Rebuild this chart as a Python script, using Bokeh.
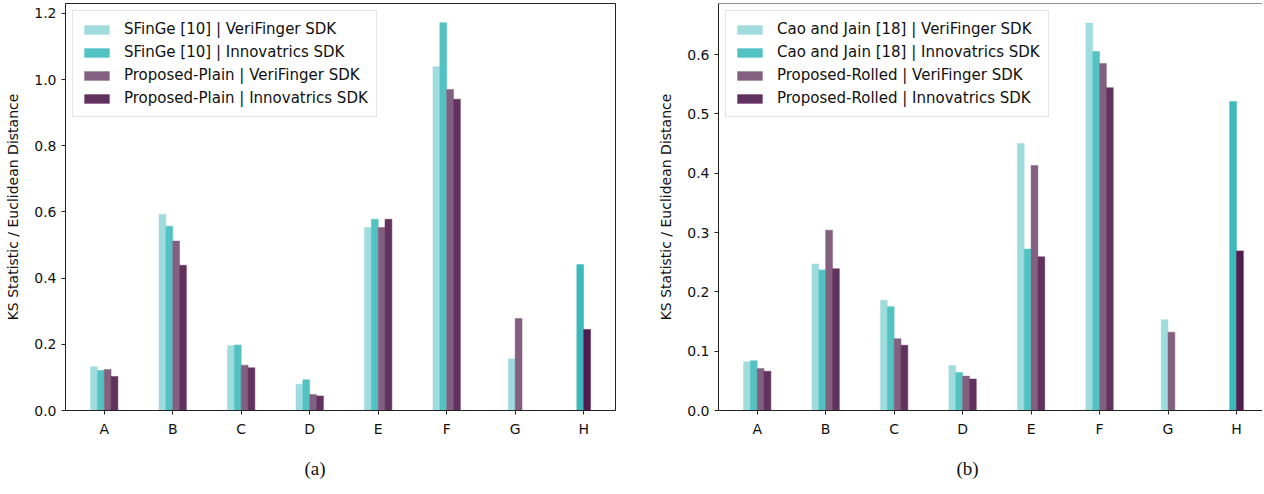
from bokeh.plotting import figure
from bokeh.layouts import row
from bokeh.models import (FixedTicker, Legend, LegendItem, Title, Span,
                          NumeralTickFormatter, ColumnDataSource)
from bokeh.embed import file_html
from bokeh.resources import INLINE

categories = ["A", "B", "C", "D", "E", "F", "G", "H"]

left_labels = ["SFinGe [10] | VeriFinger SDK", "SFinGe [10] | Innovatrics SDK",
               "Proposed-Plain | VeriFinger SDK", "Proposed-Plain | Innovatrics SDK"]
left_sfinge_veri = [0.132, 0.593, 0.196, 0.079, 0.553, 1.039, 0.156, None]
left_sfinge_inno = [0.121, 0.557, 0.198, 0.093, 0.578, 1.172, None, 0.441]
left_plain_veri = [0.124, 0.512, 0.137, 0.048, 0.553, 0.970, 0.278, None]
left_plain_inno = [0.103, 0.439, 0.129, 0.044, 0.578, 0.941, None, 0.245]

right_labels = ["Cao and Jain [18] | VeriFinger SDK", "Cao and Jain [18] | Innovatrics SDK",
                "Proposed-Rolled | VeriFinger SDK", "Proposed-Rolled | Innovatrics SDK"]
right_cao_veri = [0.082, 0.247, 0.186, 0.076, 0.450, 0.653, 0.153, None]
right_cao_inno = [0.084, 0.237, 0.175, 0.064, 0.272, 0.605, None, 0.521]
right_rolled_veri = [0.071, 0.304, 0.121, 0.058, 0.413, 0.585, 0.132, None]
right_rolled_inno = [0.066, 0.239, 0.110, 0.053, 0.259, 0.544, None, 0.269]

left_ticks = [0.0, 0.2, 0.4, 0.6, 0.8, 1.0, 1.2]
right_ticks = [0.0, 0.1, 0.2, 0.3, 0.4, 0.5, 0.6]

COLORS = ["#a0dcdd", "#52c2c3", "#83607f", "#62325e"]
COLORS_SOLO = ["#a0dcdd", "#3db9bc", "#83607f", "#531b50"]
FONT = "DejaVu Sans"
BAR_W = 0.1


def make_fig(series, labels, yticks, y_end, x_end, caption, width, border_left, border_right, open_right):
    p = figure(width=width, height=494, output_backend="svg", toolbar_location=None,
               x_range=(-0.565, x_end), y_range=(0, y_end),
               min_border_left=border_left, min_border_right=border_right,
               min_border_top=3, min_border_bottom=0)
    n_cat = len(categories)
    present = [[k for k in range(len(series)) if series[k][i] is not None] for i in range(n_cat)]
    items = []
    for k, vals in enumerate(series):
        xs, tops, cols = [], [], []
        for i in range(n_cat):
            if vals[i] is None:
                continue
            pr = present[i]
            j = pr.index(k)
            off = (j - (len(pr) - 1) / 2) * BAR_W
            xs.append(i + off)
            tops.append(vals[i])
            cols.append(COLORS[k] if len(pr) > 2 or k in (0, 2) else COLORS_SOLO[k])
        src = ColumnDataSource(dict(x=xs, top=tops, color=cols))
        r = p.vbar(x="x", top="top", width=BAR_W, bottom=0, source=src,
                   fill_color="color", line_color="color", line_width=0.5)
        items.append(LegendItem(label=labels[k], renderers=[r]))
    legend = Legend(items=items, location="top_left")
    legend.label_text_font = FONT
    legend.label_text_font_size = "15px"
    legend.label_text_color = "#111111"
    legend.glyph_width = 31
    legend.glyph_height = 11
    legend.label_standoff = 12
    legend.label_height = 20
    legend.spacing = 3
    legend.padding = 8
    legend.margin = 7
    legend.border_line_color = "#cccccc"
    legend.border_line_width = 1
    legend.background_fill_alpha = 0.85
    p.add_layout(legend)

    p.xgrid.visible = False
    p.ygrid.visible = False
    p.xaxis.ticker = FixedTicker(ticks=list(range(n_cat)))
    p.xaxis.major_label_overrides = {i: c for i, c in enumerate(categories)}
    p.yaxis.ticker = FixedTicker(ticks=yticks)
    p.yaxis.formatter = NumeralTickFormatter(format="0.0")
    p.yaxis.axis_label = "KS Statistic / Euclidean Distance"
    for ax in (p.xaxis, p.yaxis):
        ax.major_label_text_font = FONT
        ax.major_label_text_font_size = "14px"
        ax.major_label_text_color = "#111111"
        ax.axis_label_text_font = FONT
        ax.axis_label_text_font_size = "14px"
        ax.axis_label_text_font_style = "normal"
        ax.axis_label_text_color = "#111111"
        ax.minor_tick_line_color = None
        ax.major_tick_out = 4
        ax.major_tick_in = 0
        ax.axis_line_color = "#222222"
        ax.major_tick_line_color = "#222222"
    p.xaxis.major_label_standoff = 6
    p.yaxis.major_label_standoff = 5
    p.yaxis.axis_label_standoff = 10
    if open_right:
        p.outline_line_color = None
        p.add_layout(Span(location=y_end, dimension="width", line_color="#222222", line_width=1))
    else:
        p.outline_line_color = "#222222"
        p.outline_line_alpha = 1
    t = Title(text=caption[0], text_font="Liberation Serif", text_font_size="19px",
              text_font_style="normal", text_color="#111111", align="left",
              offset=caption[1], standoff=32)
    p.add_layout(t, "below")
    return p


p1 = make_fig([left_sfinge_veri, left_sfinge_inno, left_plain_veri, left_plain_inno],
              left_labels, left_ticks, 1.23, 7.465, ("(a)", 239), 640, 65, 25, False)
p2 = make_fig([right_cao_veri, right_cao_inno, right_rolled_veri, right_rolled_inno],
              right_labels, right_ticks, 0.686, 7.38, ("(b)", 238), 622, 78, 0, True)

layout = row(p1, p2)
open("out.html", "w").write(file_html(layout, INLINE))
